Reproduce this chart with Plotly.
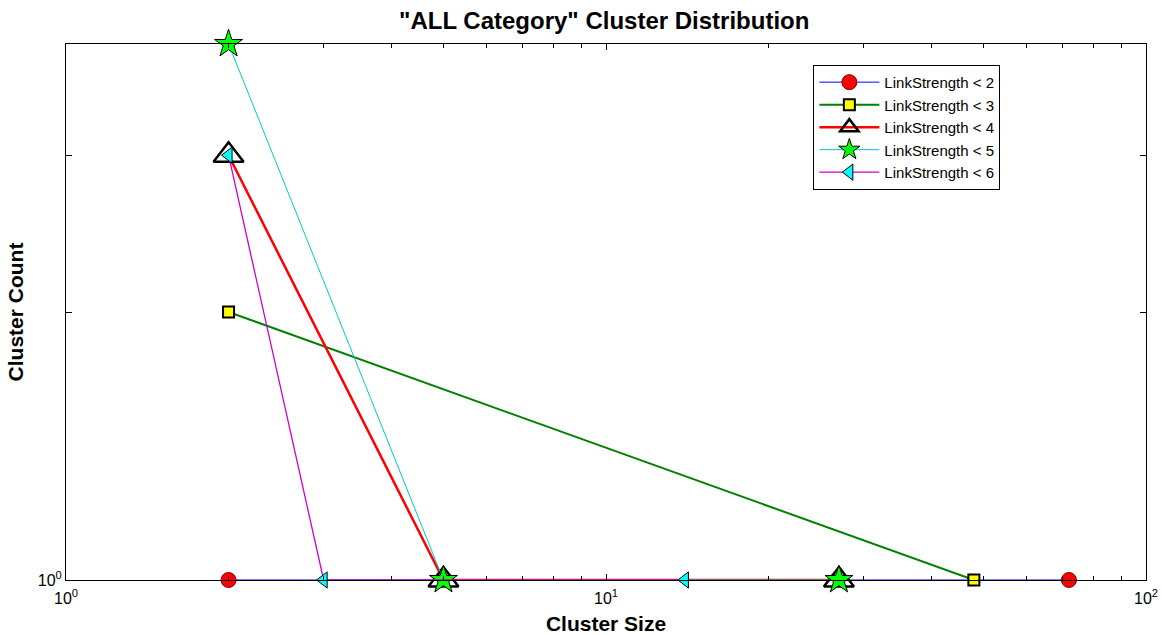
import plotly.graph_objects as go

# Cluster size / cluster count pairs for each link-strength threshold
names = ["LinkStrength < 2", "LinkStrength < 3", "LinkStrength < 4",
         "LinkStrength < 5", "LinkStrength < 6"]
sizes_ls2 = [2, 72]
counts_ls2 = [1, 1]
sizes_ls3 = [2, 48]
counts_ls3 = [2, 1]
sizes_ls4 = [2, 5, 27]
counts_ls4 = [3, 1, 1]
sizes_ls5 = [2, 5, 27]
counts_ls5 = [4, 1, 1]
sizes_ls6 = [2, 3, 14]
counts_ls6 = [3, 1, 1]

x_major = [1, 10, 100]
x_major_text = ["10<sup>0</sup>", "10<sup>1</sup>", "10<sup>2</sup>"]
x_minor = [2, 3, 4, 5, 6, 7, 8, 9, 20, 30, 40, 50, 60, 70, 80, 90]
y_major = [1]
y_major_text = ["10<sup>0</sup>"]
y_minor = [2, 3, 4]

styles = [
    dict(line=dict(color="#0000ff", width=1),
         marker=dict(symbol="circle", size=15, color="#ff0000",
                     line=dict(color="#800000", width=1))),
    dict(line=dict(color="#008000", width=2),
         marker=dict(symbol="square", size=11, color="#ffff00",
                     line=dict(color="black", width=2))),
    dict(line=dict(color="#ff0000", width=2.5),
         marker=dict(symbol="triangle-up-open", size=26, color="black",
                     line=dict(color="black", width=2.5))),
    dict(line=dict(color="#00c8c8", width=1),
         marker=dict(symbol="star", size=21, color="#00ff00",
                     line=dict(color="black", width=1))),
    dict(line=dict(color="#cc00cc", width=1.3),
         marker=dict(symbol="triangle-left", size=14, color="#00ffff",
                     line=dict(color="black", width=1))),
]

series = [(sizes_ls2, counts_ls2), (sizes_ls3, counts_ls3),
          (sizes_ls4, counts_ls4), (sizes_ls5, counts_ls5),
          (sizes_ls6, counts_ls6)]

fig = go.Figure()
for name, (xs, ys), st in zip(names, series, styles):
    fig.add_trace(go.Scatter(x=xs, y=ys, mode="lines+markers", name=name,
                             line=st["line"], marker=st["marker"],
                             cliponaxis=False))

font_family = "Arial, Liberation Sans, sans-serif"
fig.update_layout(
    width=1162, height=635,
    margin=dict(l=66, r=16, t=44, b=55),
    paper_bgcolor="white", plot_bgcolor="white",
    font=dict(family=font_family, color="black", size=14),
    title=dict(text='<b>"ALL Category" Cluster Distribution</b>',
               x=0.52, xanchor="center", y=0.968, yanchor="middle",
               font=dict(size=24)),
    legend=dict(x=0.692, y=0.961, xanchor="left", yanchor="top",
                bgcolor="white", bordercolor="black", borderwidth=1,
                font=dict(size=15), tracegroupgap=0, itemwidth=60),
    showlegend=True,
)
fig.update_xaxes(
    type="log", range=[0, 2], automargin=False,
    tickvals=x_major, ticktext=x_major_text,
    ticks="inside", ticklen=6, tickcolor="black",
    minor=dict(tickvals=x_minor, ticks="inside", ticklen=4, tickcolor="black"),
    showline=True, linecolor="black", linewidth=1, mirror="ticks",
    showgrid=False, zeroline=False,
    tickfont=dict(size=16), ticklabelstandoff=4,
    title=dict(text="<b>Cluster Size</b>", font=dict(size=21), standoff=10),
)
fig.update_yaxes(
    type="log", range=[0, 0.60206], automargin=False,
    tickvals=y_major, ticktext=y_major_text,
    ticks="inside", ticklen=6, tickcolor="black",
    minor=dict(tickvals=y_minor, ticks="inside", ticklen=6, tickcolor="black"),
    showline=True, linecolor="black", linewidth=1, mirror="ticks",
    showgrid=False, zeroline=False,
    tickfont=dict(size=16),
    title=dict(text="<b>Cluster Count</b>", font=dict(size=21), standoff=8),
)

fig.write_html("out.html")
